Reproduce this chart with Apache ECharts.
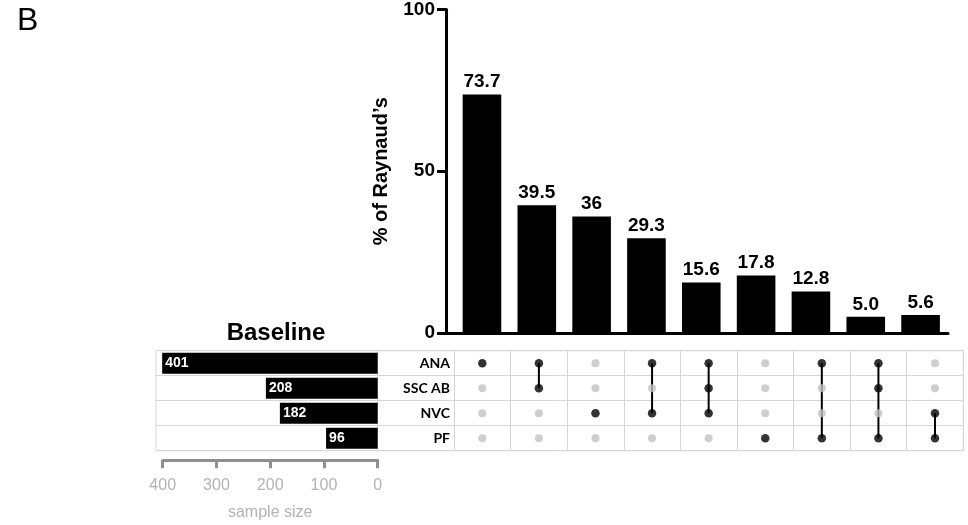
<!DOCTYPE html>
<html>
<head>
<meta charset="utf-8">
<script src="https://cdn.jsdelivr.net/npm/echarts@6/dist/echarts.min.js"></script>
<style>html,body{margin:0;padding:0;background:#fff}#c{width:968px;height:525px}</style>
</head>
<body>
<div id="c"></div>
<script>
// ---- data ----
const setNames = ['ANA', 'SSC AB', 'NVC', 'PF'];
const setSizes = [401, 208, 182, 96];
const intersections = [
  ['ANA'],
  ['ANA', 'SSC AB'],
  ['NVC'],
  ['ANA', 'NVC'],
  ['ANA', 'SSC AB', 'NVC'],
  ['PF'],
  ['ANA', 'PF'],
  ['ANA', 'SSC AB', 'PF'],
  ['NVC', 'PF']
];
const raynaudPct = [73.7, 39.5, 36, 29.3, 15.6, 17.8, 12.8, 5.0, 5.6];
const raynaudLabels = ['73.7', '39.5', '36', '29.3', '15.6', '17.8', '12.8', '5.0', '5.6'];
const pctTicks = [0, 50, 100];
const sizeTicks = [400, 300, 200, 100, 0];
const panelLetter = 'B';
const leftTitle = 'Baseline';
const yName = '% of Raynaud\u2019s';
const sizeAxisName = 'sample size';

// ---- build ----
const interNames = intersections.map(s => s.join(' & '));
const topBarData = raynaudPct.map((v, i) => [i, v]);
const activeDots = [], inactiveDots = [], links = [];
intersections.forEach((set, c) => {
  const rows = [];
  setNames.forEach((n, r) => {
    if (set.indexOf(n) >= 0) { activeDots.push([c, r]); rows.push(r); }
    else inactiveDots.push([c, r]);
  });
  if (rows.length > 1) links.push([c, Math.min(...rows), Math.max(...rows)]);
});

const ARIAL = "'Liberation Sans', Arial, sans-serif";
const GRIDC = '#d6d6d6';

const chart = echarts.init(document.getElementById('c'), null, {renderer: 'canvas'});
chart.setOption({
  animation: false,
  backgroundColor: '#fff',
  graphic: [
    {type: 'text', left: 17, top: 5, style: {text: panelLetter, font: "32px 'Liberation Sans', Arial", fill: '#000'}},
    {type: 'text', x: 276, y: 333, style: {text: leftTitle, font: "bold 24px 'Liberation Sans', Arial", fill: '#000', align: 'center', verticalAlign: 'middle'}}
  ],
  grid: [
    {left: 446, top: 5, width: 502, height: 328},          // 0 top bars
    {left: 162.7, top: 350.7, width: 215, height: 100},    // 1 left bars
    {left: 454, top: 350.7, width: 509.3, height: 100},    // 2 matrix
    {left: 156, top: 350.7, width: 807.3, height: 100, show: true, borderColor: GRIDC, borderWidth: 1} // 3 background rows
  ],
  xAxis: [
    {gridIndex: 0, type: 'value', min: -0.656, max: 8.5,
     axisLine: {show: true, onZero: false, lineStyle: {color: '#000', width: 3}},
     axisTick: {show: false}, axisLabel: {show: false}, splitLine: {show: false}},
    {gridIndex: 1, type: 'value', inverse: true, min: 0, max: 400, interval: 100,
     position: 'bottom', offset: 9.5,
     name: sizeAxisName, nameLocation: 'middle', nameGap: 44,
     nameTextStyle: {color: '#b3b3b3', fontSize: 16, fontFamily: ARIAL},
     axisLine: {show: true, onZero: false, lineStyle: {color: '#8f8f8f', width: 3}},
     axisTick: {show: true, length: 8, lineStyle: {color: '#8f8f8f', width: 3}},
     axisLabel: {color: '#b3b3b3', fontSize: 16, fontFamily: ARIAL, margin: 17},
     splitLine: {show: false}},
    {gridIndex: 2, type: 'category', data: interNames,
     axisLine: {show: false}, axisTick: {show: false, interval: 0}, axisLabel: {show: false, interval: 0},
     splitLine: {show: true, interval: 0, lineStyle: {color: GRIDC, width: 1}}},
    {gridIndex: 3, type: 'value', min: 0, max: 1, show: false}
  ],
  yAxis: [
    {gridIndex: 0, type: 'value', min: 0, max: 100, interval: 50,
     name: yName, nameLocation: 'middle', nameGap: 55, nameRotate: 90,
     nameTextStyle: {color: '#000', fontSize: 20, fontWeight: 'bold', fontFamily: ARIAL},
     axisLine: {show: true, onZero: false, lineStyle: {color: '#000', width: 3}},
     axisTick: {show: true, length: 9, lineStyle: {color: '#000', width: 3}},
     axisLabel: {color: '#000', fontSize: 19, fontWeight: 'bold', fontFamily: ARIAL, margin: 11},
     splitLine: {show: false}},
    {gridIndex: 1, type: 'category', data: setNames, inverse: true, position: 'right',
     axisLine: {show: true, onZero: false, lineStyle: {color: GRIDC, width: 1}},
     axisTick: {show: false}, axisLabel: {show: false}, splitLine: {show: false}},
    {gridIndex: 2, type: 'category', data: setNames, inverse: true, position: 'left',
     axisLine: {show: false}, axisTick: {show: false},
     axisLabel: {color: '#000', fontSize: 14, fontWeight: 'bold', fontFamily: 'Lato', margin: 4},
     splitLine: {show: false}},
    {gridIndex: 3, type: 'category', data: setNames, inverse: true,
     axisLine: {show: false}, axisTick: {show: false}, axisLabel: {show: false},
     splitLine: {show: true, interval: 0, lineStyle: {color: GRIDC, width: 1}}}
  ],
  series: [
    {type: 'bar', xAxisIndex: 0, yAxisIndex: 0, data: topBarData, barWidth: 38.6,
     itemStyle: {color: '#000'},
     label: {show: true, position: 'top', distance: 3, color: '#000', fontSize: 19, fontWeight: 'bold', fontFamily: ARIAL,
             formatter: p => raynaudLabels[p.dataIndex]}},
    {type: 'bar', xAxisIndex: 1, yAxisIndex: 1, data: setSizes, barWidth: 21, clip: false,
     itemStyle: {color: '#000'},
     label: {show: true, position: 'insideLeft', distance: 3, color: '#fff', fontSize: 14, fontWeight: 'bold', fontFamily: ARIAL}},
    {type: 'custom', xAxisIndex: 2, yAxisIndex: 2, data: links, z: 3,
     renderItem: (params, api) => {
       const a = api.coord([api.value(0), api.value(1)]);
       const b = api.coord([api.value(0), api.value(2)]);
       return {type: 'line', shape: {x1: a[0], y1: a[1], x2: b[0], y2: b[1]}, style: {stroke: '#000', lineWidth: 2}};
     }},
    {type: 'scatter', xAxisIndex: 2, yAxisIndex: 2, data: inactiveDots, symbolSize: 8, z: 4,
     itemStyle: {color: '#c2c2c2'}},
    {type: 'scatter', xAxisIndex: 2, yAxisIndex: 2, data: activeDots, symbolSize: 8.5, z: 5,
     itemStyle: {color: '#000'}}
  ]
});
</script>
</body>
</html>
